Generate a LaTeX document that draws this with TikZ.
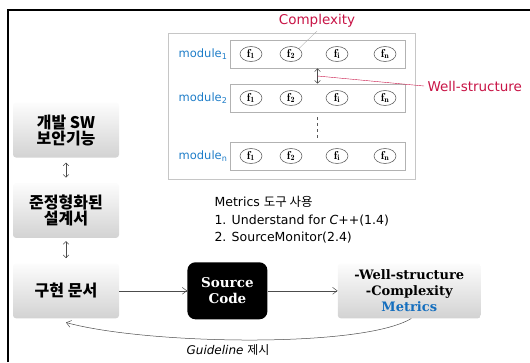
\documentclass[tikz,border=0pt]{standalone}
\usepackage{fontspec}
\newfontfamily\comic{DejaVu Sans}
\newfontfamily\serifbf{DejaVu Serif}
\newfontfamily\kr{Noto Sans CJK KR}
\usepackage{tikz}
\usetikzlibrary{arrows.meta, positioning, shapes.geometric, calc}
\usepackage{xcolor}
\definecolor{modblue}{RGB}{30,125,200}
\definecolor{noteRed}{RGB}{200,20,70}
\definecolor{metBlue}{RGB}{20,110,190}

\begin{document}
\begin{tikzpicture}[
        x=1pt, y=-1pt,
        node distance=25pt and 68pt,
        panel/.style={draw=gray!45, line width=0.8pt},
        rowbox/.style={rectangle, draw=gray!60, line width=0.8pt, minimum width=175pt, minimum height=28pt},
        fnode/.style={ellipse, draw=gray!80!black, line width=0.6pt, inner sep=0pt, minimum width=22pt, minimum height=15pt, font=\fontsize{11.5}{12}\selectfont},
        modlabel/.style={anchor=east, font=\comic\fontsize{11.5}{12}\selectfont, text=modblue, inner sep=2pt},
        note/.style={font=\comic\fontsize{13.5}{15}\selectfont, text=noteRed},
        shadebox/.style={rectangle, rounded corners=3pt, top color=gray!2, bottom color=gray!35, minimum width=106pt, minimum height=55pt, align=center},
        krbox/.style={shadebox, font=\kr\bfseries\fontsize{16}{15}\selectfont},
        arrow/.style={-{Straight Barb[length=1.6mm, width=2.4mm]}, gray!60!black, line width=0.5pt},
        updown/.style={{Straight Barb[length=1mm]}-{Straight Barb[length=1mm]}, gray!60!black, line width=0.5pt}
    ]
        \useasboundingbox (0,0) rectangle (530,362);
        \draw[line width=1.3pt] (8,362) -- (8,10) -- (530,10);

        \draw[panel] (168,33) rectangle (415,179);
        \foreach \r/\y in {1/54, 2/98, n/156} {
            \node[rowbox] (row\r) at (317.5,\y) {};
            \node[modlabel] (mod\r) at (row\r.west) {module\textsubscript{\r}};
            \foreach \s/\x in {1/251, 2/291, i/337, n/385}
                \node[fnode] (f\r\s) at (\x,\y) {$\mathbf{f}_{\mathbf{\s}}$};
        }
        \coordinate (mid12) at ($(row1.south)!0.5!(row2.north)$);
        \draw[updown] (row1.south) -- (row2.north);
        \draw[dashed, gray!70!black] ($(row2.south)+(0,5)$) -- ($(rown.north)+(0,-3)$);

        \node[note] (cplx) at (317,21) {Complexity};
        \draw[gray!60] (cplx.south) -- (f12.north east);
        \node[note, anchor=west] (wstr) at (424,86) {Well-structure};
        \draw[noteRed] (wstr.west) -- (mid12);

        \node[anchor=north west, align=left, font=\comic\fontsize{12.5}{17.5}\selectfont] (tools) at (211,193) {Metrics {\kr 도구 사용}\\1. Understand for \textit{C++}(1.4)\\2. SourceMonitor(2.4)};

        \node[krbox] (secfn) at (66,130) {개발 SW\\보안기능};
        \node[krbox, below=of secfn] (design) {준정형화된\\설계서};
        \node[krbox, below=of design] (impl) {구현 문서};
        \node[rectangle, rounded corners=8pt, fill=black, minimum width=80pt, minimum height=57pt, align=center, text=white, font=\serifbf\bfseries\fontsize{13.5}{16}\selectfont, right=of impl] (src) {Source\\Code};
        \node[shadebox, minimum width=143pt, font=\serifbf\bfseries\fontsize{13}{16}\selectfont, right=70pt of src] (metr) {-Well-structure\\-Complexity\\\textcolor{metBlue}{Metrics}};

        \draw[updown, shorten <=5pt, shorten >=5pt] (secfn) -- (design);
        \draw[updown, shorten <=3pt, shorten >=5pt] (design) -- (impl);
        \draw[arrow] (impl) -- (src);
        \draw[arrow] (src) -- (metr);
        \draw[arrow] ($(metr.south)+(2,0)$) .. controls +(-50,30) and +(80,22) .. ($(impl.south)+(0,4)$);
        \node[font=\comic\fontsize{12}{14}\selectfont] (guide) at (228,350) {\textit{Guideline} {\kr 제시}};
    \end{tikzpicture}
\end{document}
